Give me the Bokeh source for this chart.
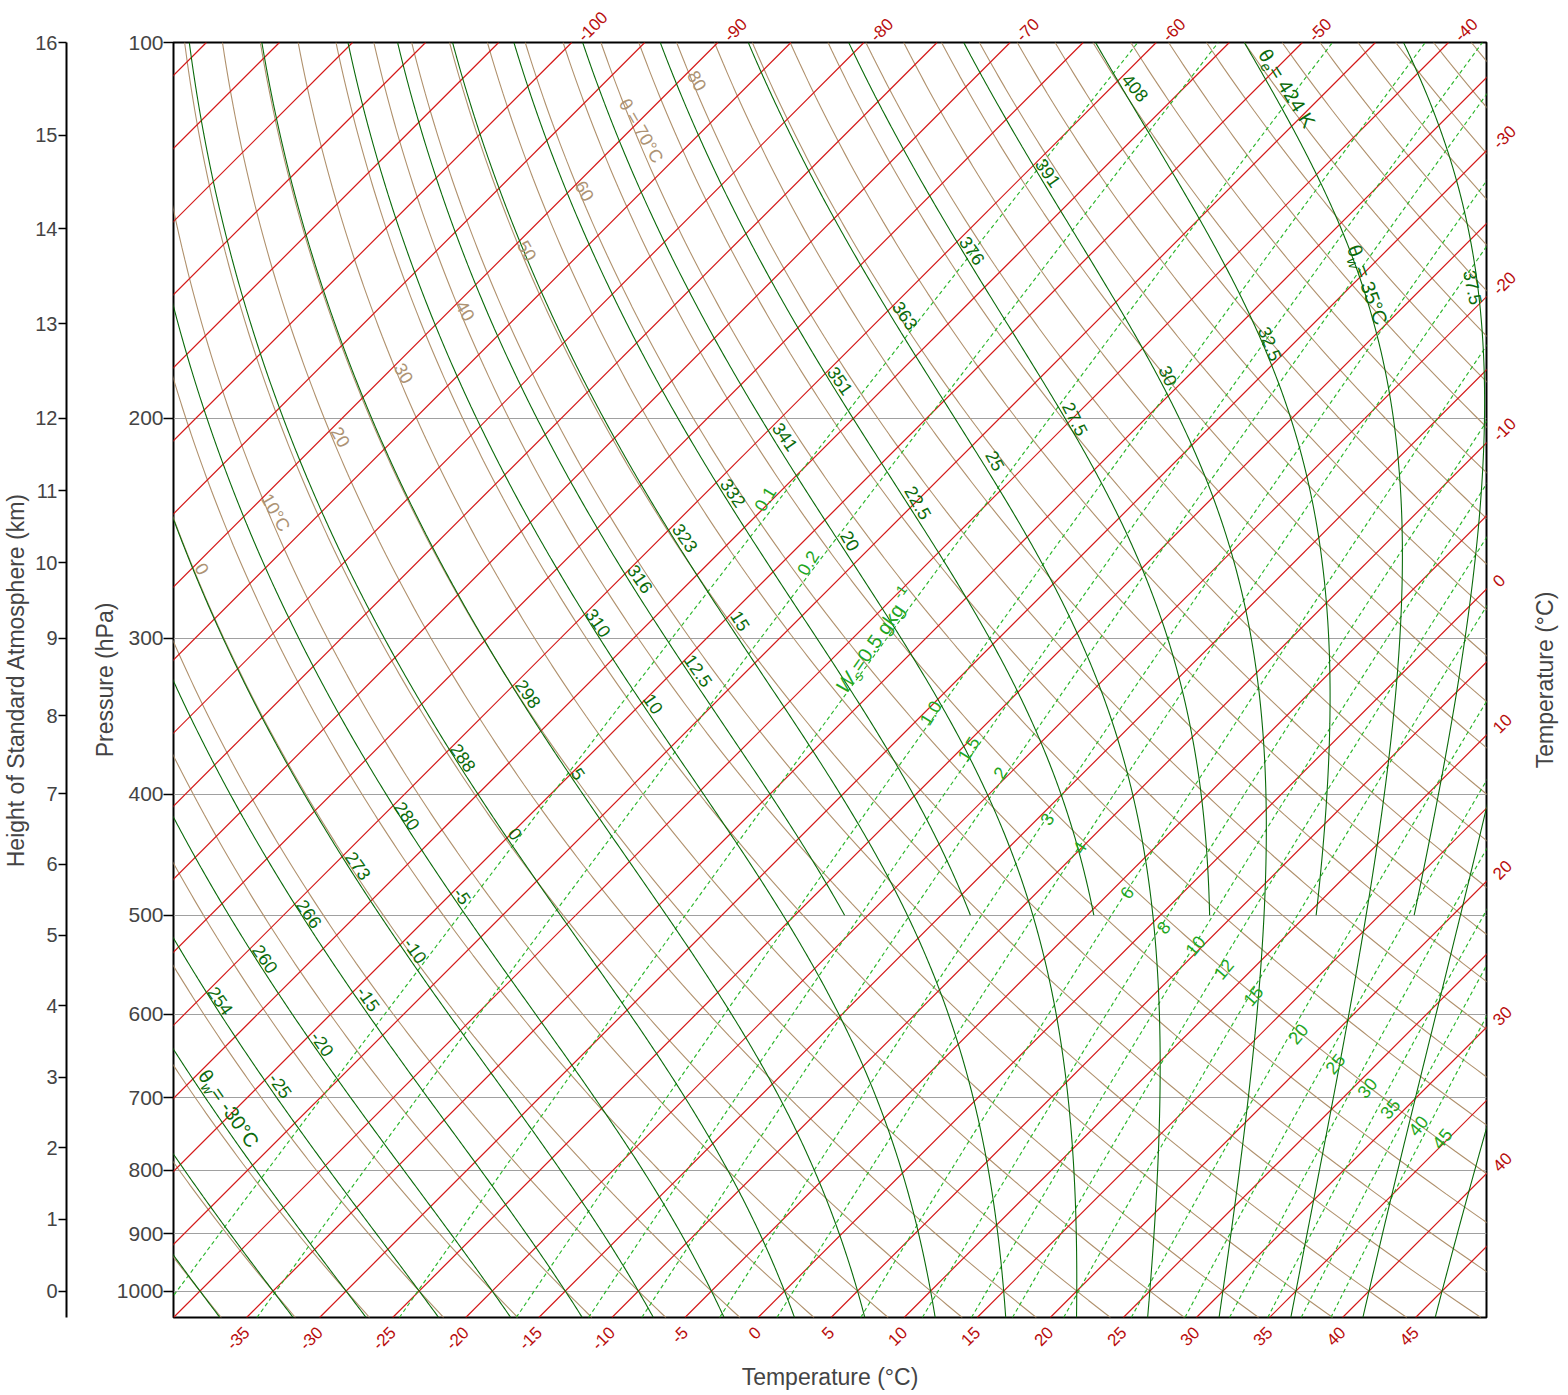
import numpy as np
from bokeh.plotting import figure
from bokeh.models import (Range1d, FixedTicker, CustomJSTickFormatter, Label,
                          LabelSet, ColumnDataSource, LinearAxis, LogAxis)
from bokeh.layouts import row
from bokeh.core.properties import value
from bokeh.embed import file_html
from bokeh.resources import INLINE

FONT = "Liberation Sans"

# ---------------- chart values ----------------
P_BOTTOM, P_TOP = 1050.0, 100.0          # hPa
X_LEFT, X_RIGHT = -40.0, 49.85           # skewed temperature at frame edges
SKEW = 85.44                             # deg C shift per decade of pressure (45 deg isotherms)

ISOBARS_HPA = [100, 200, 300, 400, 500, 600, 700, 800, 900, 1000]
ISOTHERMS_C = list(range(-125, 50, 5))
DRY_ADIABATS_C = list(range(-45, 190, 5))
MOIST_FULL_C = list(range(-40, 50, 5))
MOIST_UPPER_C = [12.5, 17.5, 22.5, 27.5, 32.5, 37.5]
MOIST_UPPER_TOP_OF = 500.0
MIXING_RATIOS_GKG = [0.1, 0.2, 0.5, 1.0, 1.5, 2, 3, 4, 6, 8, 10, 12, 15, 20, 25, 30, 35, 40, 45]

HEIGHT_KM = list(range(0, 17))
HEIGHT_HPA = [1000, 876, 768, 674, 591, 519, 455, 399.5, 346, 300, 261, 228.5, 200, 168, 141, 118.7, 100]

BOTTOM_T_LABELS = list(range(-35, 50, 5))
TOP_T_LABELS = list(range(-100, -39, 10))
RIGHT_T_LABELS = list(range(-30, 41, 10))

# label positions: skewed-x (deg C) and pressure (hPa)
DRY_LABEL_TEXT = ["0", "10°C", "20", "30", "40", "50", "60", "θ = 70°C", "80"]
DRY_LABEL_X = [-38.04, -33.02, -28.57, -24.23, -20.02, -15.8, -11.87, -8.0, -4.16]
DRY_LABEL_P = [264, 238, 207, 184, 164, 146.8, 131.5, 117.7, 107.3]

THE_LABEL_TEXT = ["254", "260", "266", "273", "280", "288", "298", "310", "316", "323",
                  "332", "341", "351", "363", "376", "391", "408"]
THE_LABEL_X = [-36.79, -33.73, -30.71, -27.36, -24.01, -20.18, -15.73, -10.94, -8.07, -4.99,
               -1.7, 1.86, 5.62, 10.07, 14.65, 19.86, 25.81]
THE_LABEL_P = [585.5, 541.9, 498.8, 456.4, 416.3, 374.0, 332.4, 291.6, 268.9, 249.3,
               229.5, 206.9, 186.6, 165.5, 146.8, 127.2, 108.7]
THE_LABEL_ANG = [-55] * 16 + [-50]

THW_LABEL_TEXT = ["-25", "-20", "-15", "-10", "-5", "0", "5", "10", "12.5", "15", "20",
                  "22.5", "25", "27.5", "30", "32.5", "37.5"]
THW_LABEL_X = [-32.69, -29.82, -26.67, -23.45, -20.24, -16.61, -12.3, -7.17, -4.09, -1.22, 6.31,
               10.96, 16.23, 21.7, 28.07, 35.04, 48.92]
THW_LABEL_P = [684.7, 633.9, 583.4, 533.9, 482.6, 430.3, 385.2, 338.6, 318.5, 290.5, 250.7,
               233.7, 216.3, 200.2, 184.9, 174.3, 157.1]
THW_LABEL_ANG = [-55, -55, -55, -55, -55, -55, -55, -55, -55, -58, -60, -60, -62, -63, -65, -68, -78]

MIX_LABEL_TEXT = ["0.1", "0.2", "1.0", "1.5", "2", "3", "4", "6", "8", "10", "12", "15",
                  "20", "25", "30", "35", "40", "45"]
MIX_LABEL_X = [0.48, 3.42, 11.8, 14.4, 16.57, 19.77, 22.0, 25.24, 27.75, 29.92, 31.86, 33.88,
               36.96, 39.49, 41.68, 43.25, 45.17, 46.81]
MIX_LABEL_P = [232.0, 261.1, 344.3, 367.9, 384.5, 418.8, 441.3, 479.6, 511.5, 529.0, 552.3, 580.1,
               622.3, 657.7, 687.5, 714.5, 737.2, 755.0]
MIX_LABEL_ANG = [58, 58, 58, 58, 58, 57, 57, 55, 52, 50, 50, 50, 50, 50, 50, 50, 50, 50]

# ---------------- thermodynamics ----------------
RD, CP, EPS = 287.04, 1005.7, 0.622


def skew_x(t, p):
    return np.asarray(t) + SKEW * np.log10(P_BOTTOM / np.asarray(p))


def sat_vp(tc):
    return 6.112 * np.exp(17.67 * tc / (tc + 243.5))


def latent(tk):
    return 2.501e6 - 2370.0 * (tk - 273.15)


def dT_dlnp(tk, p):
    es = sat_vp(tk - 273.15)
    rs = EPS * es / (p - es)
    lv = latent(tk)
    return (RD * tk + lv * rs) / (CP + lv * lv * rs * EPS / (RD * tk * tk))


def integrate(t0_c, p_path):
    lnp = np.log(p_path)
    T = np.asarray(t0_c, float) + 273.15
    out = [T.copy()]
    for i in range(len(lnp) - 1):
        h = lnp[i + 1] - lnp[i]
        p0, pm, p1 = np.exp(lnp[i]), np.exp(lnp[i] + h / 2), np.exp(lnp[i + 1])
        k1 = dT_dlnp(T, p0)
        k2 = dT_dlnp(T + h / 2 * k1, pm)
        k3 = dT_dlnp(T + h / 2 * k2, pm)
        k4 = dT_dlnp(T + h * k3, p1)
        T = T + h / 6 * (k1 + 2 * k2 + 2 * k3 + k4)
        out.append(T.copy())
    return np.array(out) - 273.15


p_up = np.concatenate([np.geomspace(1000, 500, 160), np.geomspace(500, 100, 260)[1:]])
p_down = np.geomspace(1000, 1050, 12)


def moist_lines(values):
    up = integrate(values, p_up)
    dn = integrate(values, p_down)
    pres = np.concatenate([p_down[::-1], p_up[1:]])
    temps = np.concatenate([dn[::-1], up[1:]], axis=0)
    return pres, temps


pgrid = np.geomspace(P_BOTTOM, P_TOP, 300)

RED = "#b80c0c"
TAN = "#ad9374"
DKG = "#0b6b0b"
LTG = "#1fa61f"

H_TOTAL = 1395
B_TOP, B_BOTTOM = 42, 78
TEMP_LABEL_SIZE = "17px"


def style_temp_axis(ax, standoff):
    ax.axis_line_color = None
    ax.major_tick_line_color = None
    ax.minor_tick_line_color = None
    ax.major_tick_out = 0
    ax.major_tick_in = 0
    ax.major_label_standoff = standoff
    ax.major_label_orientation = np.pi / 4
    ax.major_label_text_font = FONT
    ax.major_label_text_font_size = TEMP_LABEL_SIZE
    ax.major_label_text_color = RED
    ax.axis_label_text_font = FONT
    ax.axis_label_text_font_size = "23px"
    ax.axis_label_text_font_style = "normal"


# ---------------- main skew-T figure ----------------
main = figure(width=1447, height=H_TOTAL, x_range=Range1d(X_LEFT, X_RIGHT),
              y_range=Range1d(P_BOTTOM, P_TOP), y_axis_type="log",
              output_backend="svg", toolbar_location=None,
              min_border_left=93, min_border_right=41, min_border_top=B_TOP,
              min_border_bottom=B_BOTTOM)
main.outline_line_color = "black"
main.outline_line_width = 2
main.xgrid.visible = False
main.ygrid.ticker = FixedTicker(ticks=ISOBARS_HPA, minor_ticks=[])
main.ygrid.grid_line_color = "#a0a0a0"
main.ygrid.grid_line_width = 1.2

ya = main.yaxis[0]
ya.ticker = FixedTicker(ticks=ISOBARS_HPA, minor_ticks=[])
ya.formatter = CustomJSTickFormatter(code="return Math.round(tick).toString();")
ya.axis_line_color = None
ya.major_tick_out = 10
ya.major_tick_in = 0
ya.major_tick_line_width = 1.5
ya.minor_tick_line_color = None
ya.major_label_standoff = 0
ya.major_label_text_font = FONT
ya.major_label_text_font_size = "21px"
ya.axis_label = "Pressure (hPa)"
ya.axis_label_text_font = FONT
ya.axis_label_text_font_size = "23px"
ya.axis_label_text_font_style = "normal"
ya.axis_label_standoff = -4

# bottom: isotherm values where they meet the lower edge
xa = main.xaxis[0]
xa.ticker = FixedTicker(ticks=[float(skew_x(t, P_BOTTOM)) for t in BOTTOM_T_LABELS], minor_ticks=[])
xa.formatter = CustomJSTickFormatter(code="return String(Math.round(tick));")
style_temp_axis(xa, 12)
xa.axis_label = "Temperature (°C)"
xa.axis_label_standoff = 6

# top: isotherm values where they meet the upper edge
top_off = float(SKEW * np.log10(P_BOTTOM / P_TOP))
top_ax = LinearAxis(ticker=FixedTicker(ticks=[float(skew_x(t, P_TOP)) + 0.6 for t in TOP_T_LABELS],
                                       minor_ticks=[]),
                    formatter=CustomJSTickFormatter(args=dict(off=top_off),
                                                    code="return String(Math.round((tick - off) / 10) * 10);"))
style_temp_axis(top_ax, 4)
main.add_layout(top_ax, "above")

# right: isotherm values where they meet the right edge
right_p = [P_BOTTOM / 10 ** ((X_RIGHT - t) / SKEW) * 0.991 for t in RIGHT_T_LABELS]
right_ax = LogAxis(ticker=FixedTicker(ticks=right_p, minor_ticks=[]),
                   formatter=CustomJSTickFormatter(
                       args=dict(xr=X_RIGHT, sk=SKEW, pb=P_BOTTOM),
                       code="return String(Math.round((xr - sk * Math.log10(pb / tick)) / 10) * 10);"))
style_temp_axis(right_ax, 9)
main.add_layout(right_ax, "right")

# dry adiabats
dry_xs, dry_ys = [], []
for th in DRY_ADIABATS_C:
    t = (th + 273.15) * (pgrid / 1000.0) ** 0.2857 - 273.15
    dry_xs.append(list(skew_x(t, pgrid)))
    dry_ys.append(list(pgrid))
main.multi_line(dry_xs, dry_ys, line_color="#b0916d", line_width=1.1)

# isotherms (straight in skew-T / log-p space)
main.segment(x0=[float(skew_x(t, P_BOTTOM)) for t in ISOTHERMS_C], y0=[P_BOTTOM] * len(ISOTHERMS_C),
             x1=[float(skew_x(t, P_TOP)) for t in ISOTHERMS_C], y1=[P_TOP] * len(ISOTHERMS_C),
             line_color="#d41818", line_width=1.2)

# mixing ratio lines
mix_xs, mix_ys = [], []
for w in MIXING_RATIOS_GKG:
    wk = w / 1000.0
    e = wk * pgrid / (EPS + wk)
    L = np.log(e / 6.112)
    t = 243.5 * L / (17.67 - L)
    mix_xs.append(list(skew_x(t, pgrid)))
    mix_ys.append(list(pgrid))
main.multi_line(mix_xs, mix_ys, line_color="#2ab52a", line_width=1.15, line_dash="4 3")

# moist adiabats (full height)
pres, temps = moist_lines(MOIST_FULL_C)
m_xs = [list(skew_x(temps[:, i], pres)) for i in range(len(MOIST_FULL_C))]
m_ys = [list(pres) for _ in MOIST_FULL_C]
main.multi_line(m_xs, m_ys, line_color="#0a6a0a", line_width=1.1)

# moist adiabats drawn only above 500 hPa
pres_u, temps_u = moist_lines(MOIST_UPPER_C)
mask = pres_u <= MOIST_UPPER_TOP_OF + 1e-6
mu_xs = [list(skew_x(temps_u[mask, i], pres_u[mask])) for i in range(len(MOIST_UPPER_C))]
mu_ys = [list(pres_u[mask]) for _ in MOIST_UPPER_C]
main.multi_line(mu_xs, mu_ys, line_color="#0a6a0a", line_width=1.1)


# ---------------- in-chart labels ----------------
def label_set(fig, xs, ps, texts, angles_deg, color, size):
    src = ColumnDataSource(dict(x=list(xs), y=list(ps), text=list(texts),
                                angle=[np.radians(a) for a in angles_deg]))
    fig.add_layout(LabelSet(x="x", y="y", text="text", angle="angle", source=src,
                            text_align="center", text_baseline="middle",
                            text_font=value(FONT), text_font_size=size, text_color=color))


label_set(main, DRY_LABEL_X, DRY_LABEL_P, DRY_LABEL_TEXT, [-60] * len(DRY_LABEL_X), TAN, "18px")
label_set(main, THE_LABEL_X, THE_LABEL_P, THE_LABEL_TEXT, THE_LABEL_ANG, DKG, "18px")
label_set(main, THW_LABEL_X, THW_LABEL_P, THW_LABEL_TEXT, THW_LABEL_ANG, DKG, "18px")
label_set(main, MIX_LABEL_X, MIX_LABEL_P, MIX_LABEL_TEXT, MIX_LABEL_ANG, LTG, "18px")

CHAR_W = {"0": .556, "1": .556, "2": .556, "3": .556, "4": .556, "5": .556, "6": .556,
          "7": .556, "8": .556, "9": .556, ".": .278, "-": .333, " ": .278, "=": .584,
          "°": .4, "C": .722, "K": .667, "θ": .556, "w": .722, "e": .556, "s": .5,
          "W": .944, "g": .556, "k": .5}


def rich_label(fig, x, p, pieces, angle_deg, color, size=20.0):
    a = np.radians(angle_deg)
    ux, uy = np.cos(a), np.sin(a)
    nx, ny = -np.sin(a), np.cos(a)
    specs, total = [], 0.0
    for txt, kind in pieces:
        fs = size * 0.72 if kind in ("sub", "isub", "sup") else size
        wdt = sum(CHAR_W.get(c, .556) for c in txt) * fs
        specs.append((txt, kind, fs, wdt))
        total += wdt
    cur = -total / 2
    for txt, kind, fs, wdt in specs:
        shift = -0.32 * size if kind in ("sub", "isub") else (0.38 * size if kind == "sup" else 0.0)
        ox = cur * ux + shift * nx
        oy = cur * uy + shift * ny
        fig.add_layout(Label(x=x, y=p, x_offset=float(ox), y_offset=float(oy), text=txt,
                             angle=float(a), text_align="left", text_baseline="middle",
                             text_font=FONT, text_font_size=f"{fs:.1f}px",
                             text_font_style="italic" if kind in ("i", "isub") else "normal",
                             text_color=color))
        cur += wdt


rich_label(main, -36.11, 717.2, [("θ", "n"), ("w", "isub"), (" = -30°C", "n")], -55, DKG)
rich_label(main, 41.78, 157.1, [("θ", "n"), ("w", "isub"), (" = 35°C", "n")], -70, DKG)
rich_label(main, 36.3, 109.3, [("θ", "n"), ("e", "isub"), (" = 424 K", "n")], -58, DKG)
rich_label(main, 8.01, 301.4, [("W", "i"), ("s", "isub"), (" =0.5 gkg", "n"), ("-1", "sup")], 55, LTG)

# ---------------- height axis (standard atmosphere) on the far left ----------------
fh = figure(width=80, height=H_TOTAL, x_range=Range1d(0, 1), y_range=main.y_range,
            y_axis_type="log", output_backend="svg", toolbar_location=None,
            min_border_left=65, min_border_right=0, min_border_top=B_TOP,
            min_border_bottom=B_BOTTOM, x_axis_location=None)
fh.outline_line_color = None
fh.grid.visible = False
ha = fh.yaxis[0]
ha.ticker = FixedTicker(ticks=HEIGHT_HPA, minor_ticks=[])
ha.formatter = CustomJSTickFormatter(
    args=dict(ps=HEIGHT_HPA, zs=HEIGHT_KM),
    code="let b=0; for (let i=0;i<ps.length;i++){ if (Math.abs(ps[i]-tick)<Math.abs(ps[b]-tick)) b=i; } return String(zs[b]);")
ha.axis_line_width = 2
ha.axis_line_color = "black"
ha.major_tick_out = 8
ha.major_tick_in = 0
ha.major_tick_line_width = 1.5
ha.minor_tick_line_color = None
ha.major_label_standoff = 1
ha.major_label_text_font = FONT
ha.major_label_text_font_size = "20px"
ha.axis_label = "Height of Standard Atmosphere (km)"
ha.axis_label_text_font = FONT
ha.axis_label_text_font_size = "23px"
ha.axis_label_text_font_style = "normal"
ha.axis_label_standoff = 3

# ---------------- right-hand temperature title ----------------
fr = figure(width=38, height=H_TOTAL, x_range=Range1d(0, 1), y_range=main.y_range,
            y_axis_type="log", output_backend="svg", toolbar_location=None,
            min_border_left=30, min_border_right=0, min_border_top=B_TOP,
            min_border_bottom=B_BOTTOM, x_axis_location=None)
fr.outline_line_color = None
fr.grid.visible = False
ra = fr.yaxis[0]
ra.ticker = FixedTicker(ticks=[], minor_ticks=[])
ra.axis_line_color = None
ra.major_tick_line_color = None
ra.minor_tick_line_color = None
ra.major_tick_out = 0
ra.major_label_standoff = 0
ra.axis_label = "Temperature (°C)"
ra.axis_label_text_font = FONT
ra.axis_label_text_font_size = "23px"
ra.axis_label_text_font_style = "normal"
ra.axis_label_standoff = 0

layout = row(fh, main, fr)
open("out.html", "w").write(file_html(layout, INLINE))
